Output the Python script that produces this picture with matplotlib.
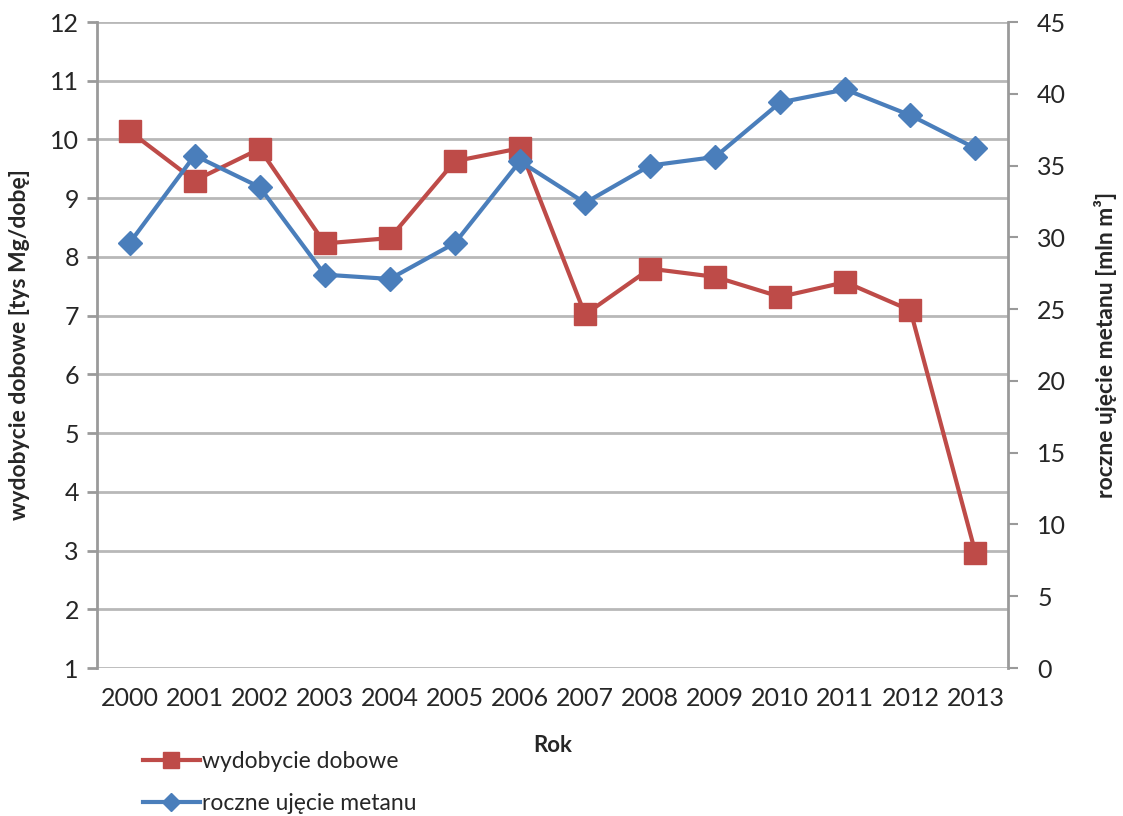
import matplotlib
matplotlib.use('Agg')
import matplotlib.pyplot as plt

plt.rcParams['font.family'] = ['Lato', 'DejaVu Sans']

years = ['2000', '2001', '2002', '2003', '2004', '2005', '2006',
         '2007', '2008', '2009', '2010', '2011', '2012', '2013']
wydobycie = [10.14, 9.30, 9.84, 8.23, 8.32, 9.63, 9.85,
             7.02, 7.80, 7.66, 7.32, 7.57, 7.09, 2.96]
metan = [29.6, 35.7, 33.5, 27.4, 27.1, 29.6, 35.3,
         32.4, 35.0, 35.6, 39.4, 40.3, 38.5, 36.2]

RED = '#be4b48'
BLUE = '#4a7ebb'
GRID = '#b8b8b8'
SPINE = '#9a9a9a'
TXT = '#262626'

fig = plt.figure(figsize=(11.23, 8.16), dpi=100)
ax = fig.add_axes([97 / 1123, 1 - 668 / 816, (1008 - 97) / 1123, (668 - 22) / 816])
ax2 = ax.twinx()

x = list(range(len(years)))
l1, = ax.plot(x, wydobycie, color=RED, lw=3, marker='s', ms=16, zorder=3,
              label='wydobycie dobowe')
l2, = ax2.plot(x, metan, color=BLUE, lw=3, marker='D', ms=12, zorder=3,
               label='roczne ujęcie metanu')

ax.set_xlim(-0.5, len(years) - 0.5)
ax.set_ylim(1, 12)
ax.set_yticks(range(1, 13))
ax2.set_ylim(0, 45)
ax2.set_yticks(range(0, 46, 5))
ax.set_xticks(x)
ax.set_xticklabels(years)

ax.grid(axis='y', color=GRID, lw=2)
ax.set_axisbelow(True)
for a in (ax, ax2):
    for s in a.spines.values():
        s.set_visible(False)
ax.spines['left'].set_visible(True)
ax.spines['left'].set_color(SPINE)
ax.spines['left'].set_linewidth(2)
ax2.spines['right'].set_visible(True)
ax2.spines['right'].set_color(SPINE)
ax2.spines['right'].set_linewidth(2)

ax.tick_params(axis='y', length=7, width=2, color=SPINE, labelsize=18,
               labelcolor=TXT, pad=6)
ax.tick_params(axis='x', length=0, labelsize=18, labelcolor=TXT, pad=14)
ax2.tick_params(axis='y', length=7, width=1.5, color=SPINE, labelsize=18,
                labelcolor=TXT, pad=14)

ax.set_xlabel('Rok', fontsize=16, fontweight='bold', color=TXT, labelpad=18)
ax.set_ylabel('wydobycie dobowe [tys Mg/dobę]', fontsize=16.5, fontweight='bold',
              color=TXT, labelpad=14)
ax2.set_ylabel('roczne ujęcie metanu [mln m³]', fontsize=16.5, fontweight='bold',
               color=TXT, labelpad=20)

fig.legend(handles=[l1, l2], loc='upper left', bbox_to_anchor=(122 / 1123, 1 - 730 / 816),
           frameon=False, fontsize=16.5, handlelength=2.5, handletextpad=0.1,
           labelspacing=0.95, markerscale=0.75, labelcolor=TXT)

fig.savefig('out.png', dpi=100)
